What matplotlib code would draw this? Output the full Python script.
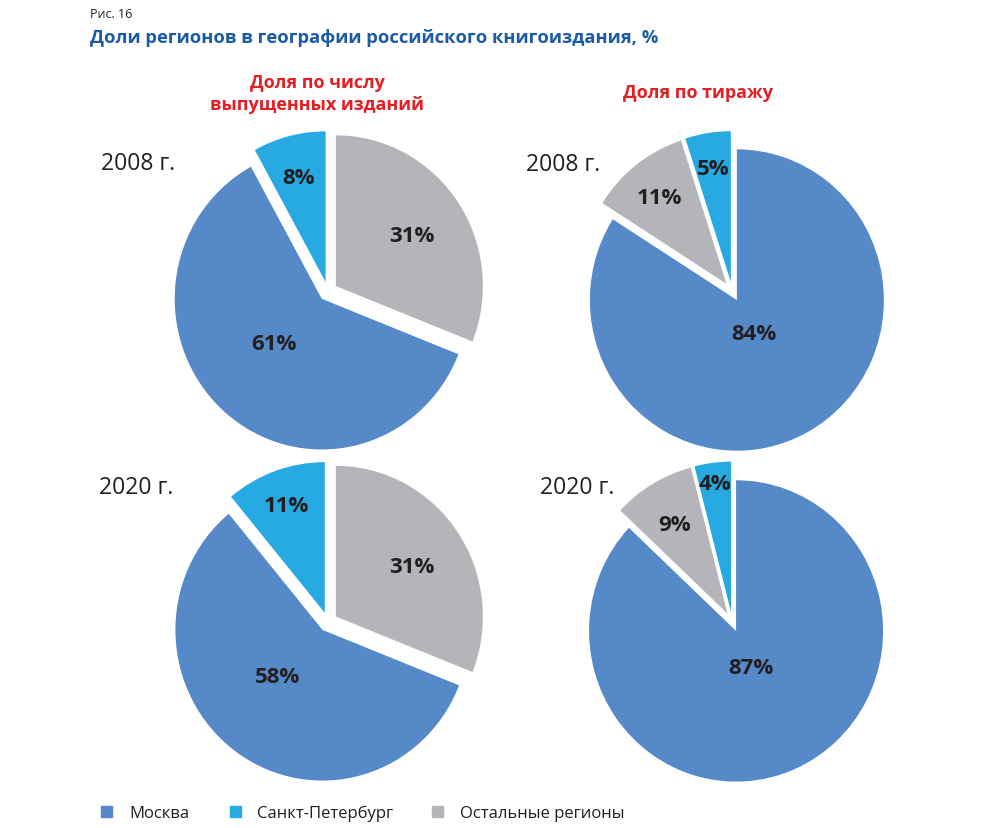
import matplotlib
matplotlib.use('Agg')
import matplotlib.pyplot as plt
import numpy as np

# ---------------- data ----------------
categories = ['Москва', 'Санкт-Петербург', 'Остальные регионы']
titles_col = ['Доля по числу\nвыпущенных изданий', 'Доля по тиражу']
years = ['2008 г.', '2020 г.']
# shares, in the order of `categories`
count_2008 = [61, 8, 31]
count_2020 = [58, 11, 31]
print_2008 = [84, 5, 11]
print_2020 = [87, 4, 9]

# ---------------- style ----------------
colors = ['#5589c7', '#27a9e1', '#b4b5b8']
text_dark = '#231f20'
FONT = 'Open Sans'
plt.rcParams['font.family'] = [FONT, 'DejaVu Sans']

W, H = 1000, 829
SY = 1.025           # slight vertical stretch of the reference
R = 147              # pie radius (px)
EXPL = 9.5           # explode offset (px)

fig = plt.figure(figsize=(W / 100, H / 100), dpi=100)
ax = fig.add_axes([0, 0, 1, 1])


def dy(y_img):
    return (H - y_img) / SY


def fx(x):
    return x / W


def fy(y):
    return 1 - y / H


# slice order clockwise from 12 o'clock (indices into categories)
order_left = [2, 0, 1]
order_right = [0, 2, 1]
# label placement: (distance from pie centre as fraction of radius,
#                   clockwise angle tweak in degrees)
pies = [
    dict(vals=count_2008, order=order_left, c=(328, 292.5),
         lab={0: (0.49, 6.8), 1: (0.80, 0), 2: (0.686, 0)}),
    dict(vals=print_2008, order=order_right, c=(732.3, 292.5),
         lab={0: (0.30, 0), 1: (0.84, 0), 2: (0.81, 0)}),
    dict(vals=count_2020, order=order_left, c=(328, 623),
         lab={0: (0.488, 9.3), 1: (0.84, 0), 2: (0.69, 0)}),
    dict(vals=print_2020, order=order_right, c=(732.3, 623),
         lab={0: (0.31, 0), 1: (0.94, 0), 2: (0.77, 0)}),
]

for p in pies:
    idx = p['order']
    v = [p['vals'][i] for i in idx]
    cols = [colors[i] for i in idx]
    cx, cy = p['c'][0], dy(p['c'][1])
    wedges, _ = ax.pie(v, colors=cols, startangle=90, counterclock=False,
                       explode=[EXPL] * len(v), radius=R, center=(cx, cy),
                       frame=True, wedgeprops=dict(linewidth=0))
    for w, i, val in zip(wedges, idx, v):
        thm = np.deg2rad((w.theta1 + w.theta2) / 2)
        base = (w.center[0] - EXPL * np.cos(thm), w.center[1] - EXPL * np.sin(thm))
        frac, tweak = p['lab'][i]
        th = thm - np.deg2rad(tweak)
        x = base[0] + frac * R * np.cos(th)
        y = base[1] + frac * R * np.sin(th)
        ax.text(x, y, f'{val}%', ha='center', va='center_baseline', fontsize=16,
                fontweight='bold', color=text_dark)

ax.set_aspect('auto')
ax.set_xlim(0, W)
ax.set_ylim(0, H / SY)
ax.axis('off')

# ---------------- texts ----------------
fig.text(fx(90), fy(18.3), 'Рис. 16', fontsize=9, color=text_dark, va='baseline')
fig.text(fx(90), fy(42.7), 'Доли регионов в географии российского книгоиздания, %',
         fontsize=13.2, fontweight='bold', color='#1b5ba6', va='baseline')

fig.text(fx(317), fy(87.5), titles_col[0].split('\n')[0], fontsize=13, fontweight='bold',
         color='#e31e24', ha='center', va='baseline')
fig.text(fx(317), fy(110), titles_col[0].split('\n')[1], fontsize=13, fontweight='bold',
         color='#e31e24', ha='center', va='baseline')
fig.text(fx(698), fy(98.5), titles_col[1], fontsize=13, fontweight='bold',
         color='#e31e24', ha='center', va='baseline')

year_pos = [((138, 170), (563, 171)), ((136, 494), (577, 494))]
for yr, ((x1, y1), (x2, y2)) in zip(years, year_pos):
    fig.text(fx(x1), fy(y1), yr, fontsize=16.5, color=text_dark, ha='center', va='baseline')
    fig.text(fx(x2), fy(y2), yr, fontsize=16.5, color=text_dark, ha='center', va='baseline')

# ---------------- legend ----------------
leg_sq_x = [101, 230, 432]
leg_tx_x = [129, 257.5, 460]
for name, col, sx, tx in zip(categories, colors, leg_sq_x, leg_tx_x):
    fig.patches.append(plt.Rectangle((fx(sx), fy(818)), 11 / W, 11 / H,
                                     transform=fig.transFigure, color=col, figure=fig))
    fig.text(fx(tx), fy(818), name, fontsize=12, color=text_dark, va='baseline')

fig.savefig('out.png', dpi=100)
